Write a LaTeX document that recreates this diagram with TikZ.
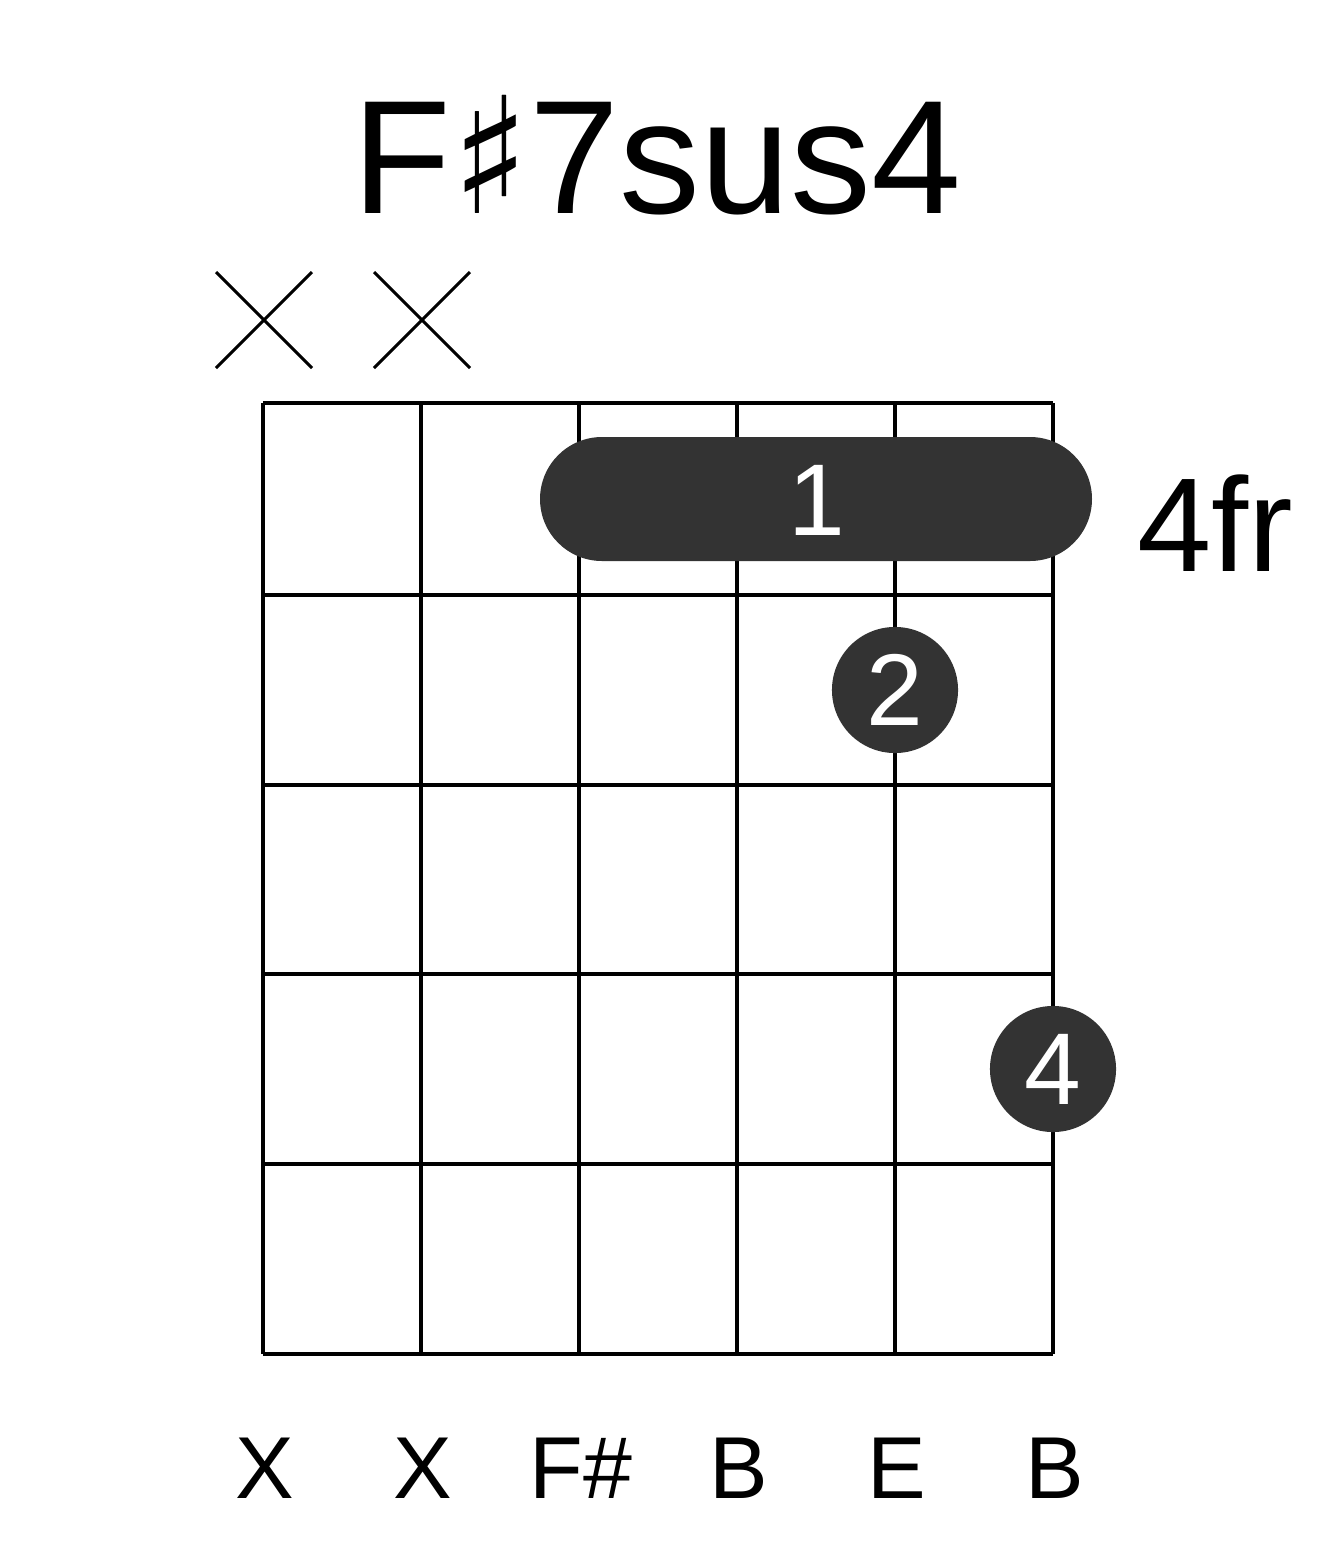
\documentclass[tikz,border=0pt]{standalone}
\usepackage{fontspec}
\setmainfont{Liberation Sans}
\newfontfamily\symfont{DejaVu Sans}
\usetikzlibrary{positioning}
\definecolor{dotgray}{HTML}{333333}
\tikzset{
  gridline/.style = {line width=1.2pt, black},
  mute/.style = {line width=0.9pt, black},
  finger/.style = {circle, fill=dotgray, minimum size=1.26cm, inner sep=0pt, text=white, font=\fontsize{29}{30}\selectfont},
  strname/.style = {font=\fontsize{25}{26}\selectfont, anchor=center}
}
\begin{document}
\begin{tikzpicture}[x=0.01cm, y=-0.01cm]
	\useasboundingbox (0,0) rectangle (1317,1551);
	% grid
	\foreach \s in {0,...,5}
		\draw [gridline] (263+158*\s,403) -- (263+158*\s,1354);
	\draw [gridline] (263,403) -- (1053,403);
	\foreach \f in {595,785,974,1164,1354}
		\draw [gridline] (263,\f) -- (1053,\f);
	% title and fret marker
	\node (Title) at (657,155) {\fontsize{46}{48}\selectfont F{\symfont ♯}7sus4};
	\node (Fret) at (1215,523) {\fontsize{38}{40}\selectfont 4fr};
	% muted strings
	\foreach \x in {264,422} {
		\draw [mute] (\x-48,272) -- (\x+48,368);
		\draw [mute] (\x-48,368) -- (\x+48,272);
	}
	% barre
	\fill [dotgray, rounded corners=0.62cm] (540,437) rectangle (1092,561);
	\node (Barre) [text=white, font=\fontsize{29}{30}\selectfont] at (817,500) {1};
	% fingers
	\node (FingerTwo) [finger] at (895,690) {2};
	\node (FingerFour) [finger] at (1053,1069) {4};
	% string names
	\foreach \s/\n in {0/X,1/X,2/F\#,3/B,4/E,5/B}
		\node (Name\s) [strname] at (265+158*\s,1468) {\n};
\end{tikzpicture}
\end{document}
